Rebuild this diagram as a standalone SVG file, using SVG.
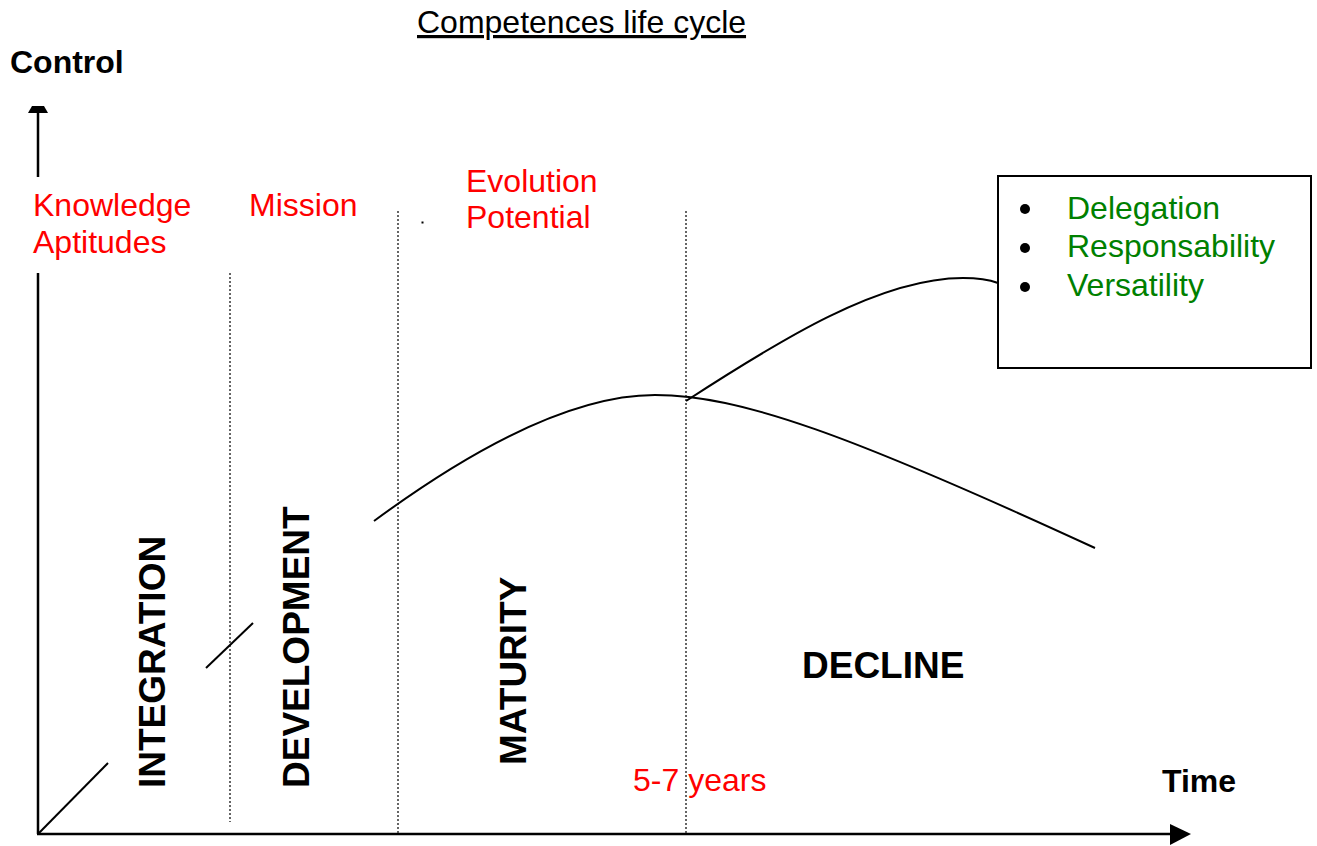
<svg xmlns="http://www.w3.org/2000/svg" width="1317" height="846" viewBox="0 0 1317 846">
<style>
text{font-family:"Liberation Sans",Arial,sans-serif;}
.red{fill:#ff0000;font-size:32px;}
.green{fill:#008000;font-size:32px;}
.bold{font-weight:bold;font-size:32px;fill:#000;}
.big{font-weight:bold;font-size:37px;fill:#000;}
.axis{stroke:#000;stroke-width:2.5;fill:none;}
.dot{stroke:#333;stroke-width:1.5;stroke-dasharray:2,2;fill:none;}
.curve{stroke:#000;stroke-width:2;fill:none;}
</style>
<rect width="1317" height="846" fill="#fff"/>
<g id="title"><text x="417" y="33" style="font-size:32px;fill:#000;text-decoration:underline">Competences life cycle</text></g>
<g id="connectors">
<line class="axis" x1="38" y1="834" x2="38" y2="112"/>
<polygon points="28,113 48,113 44,106 32,106" fill="#000"/>
<line class="axis" x1="37" y1="834" x2="1172" y2="834"/>
<polygon points="1170,824 1191,834 1170,845" fill="#000"/>
<line class="dot" x1="230" y1="273" x2="230" y2="822"/>
<line class="dot" x1="398" y1="211" x2="398" y2="834"/>
<line class="dot" x1="686" y1="211" x2="686" y2="834"/>
<rect x="421.5" y="221.5" width="2" height="2" fill="#000"/>
<line class="curve" x1="38" y1="834" x2="108" y2="763"/>
<line class="curve" x1="206" y1="668" x2="253" y2="623"/>
<path class="curve" d="M374,521 C450,465 560,395 655,395 C740,395 850,435 1095,548"/>
<path class="curve" d="M686,401 C780,340 880,278 963,278 C980,278 990,280 998,283"/>
</g>
<g id="control"><text class="bold" x="10" y="73">Control</text></g>
<g id="time"><text class="bold" x="1162" y="792">Time</text></g>
<g id="knowledge">
<rect x="30" y="177" width="170" height="96" fill="#fff"/>
<text class="red" x="33" y="216">Knowledge</text>
<text class="red" x="33" y="253">Aptitudes</text>
</g>
<g id="mission"><text class="red" x="249" y="216">Mission</text></g>
<g id="evolution">
<text class="red" x="466" y="192">Evolution</text>
<text class="red" x="466" y="228">Potential</text>
</g>
<g id="years"><text class="red" x="633" y="791">5-7 years</text></g>
<g id="integration"><text class="big" transform="translate(165,788) rotate(-90)">INTEGRATION</text></g>
<g id="development"><text class="big" transform="translate(309,788) rotate(-90)">DEVELOPMENT</text></g>
<g id="maturity"><text class="big" transform="translate(526,765) rotate(-90)">MATURITY</text></g>
<g id="decline"><text class="big" x="802" y="678">DECLINE</text></g>
<g id="box">
<rect x="998" y="176" width="313" height="192" fill="#fff" stroke="#000" stroke-width="2"/>
<circle cx="1025" cy="209" r="5" fill="#000"/>
<circle cx="1025" cy="248" r="5" fill="#000"/>
<circle cx="1025" cy="287" r="5" fill="#000"/>
<text class="green" x="1067" y="219">Delegation</text>
<text class="green" x="1067" y="257">Responsability</text>
<text class="green" x="1067" y="296">Versatility</text>
</g>
</svg>
